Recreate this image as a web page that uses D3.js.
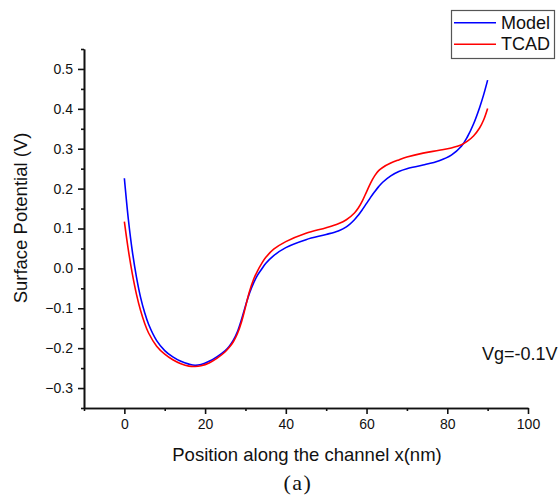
<!DOCTYPE html>
<html lang="en">
<head>
    <meta charset="UTF-8">
    <title>Surface potential</title>
    <script src="https://d3js.org/d3.v7.min.js"></script>
    <style>
        body { margin: 0; background: #fff; }
        svg { display: block; font-family: "Liberation Sans", Arial, sans-serif; }
    </style>
</head>
<body>
    <svg width="560" height="498"></svg>

    <script>
        // data
        const positions = [0, 1, 2, 3, 4, 5, 6, 8, 10, 12, 14, 16, 17.5, 19, 21, 23, 25, 26, 27, 28, 29, 30, 31, 32, 33, 34, 35, 37, 40, 45, 50, 53, 55, 57, 58, 59, 60, 61, 62, 63, 64, 66, 68, 70, 74, 78, 81, 83.5, 85, 86.5, 88, 89, 90];
        const modelValues = [0.226, 0.122, 0.041, -0.022, -0.072, -0.110, -0.140, -0.181, -0.206, -0.222, -0.233, -0.240, -0.243, -0.241, -0.233, -0.221, -0.206, -0.195, -0.180, -0.159, -0.129, -0.094, -0.062, -0.037, -0.017, -0.002, 0.012, 0.032, 0.052, 0.072, 0.085, 0.094, 0.104, 0.122, 0.134, 0.148, 0.163, 0.178, 0.192, 0.205, 0.216, 0.232, 0.243, 0.250, 0.259, 0.270, 0.284, 0.306, 0.330, 0.362, 0.403, 0.435, 0.472];
        const tcadValues = [0.117, 0.045, -0.015, -0.065, -0.105, -0.137, -0.162, -0.195, -0.215, -0.229, -0.239, -0.245, -0.246, -0.244, -0.237, -0.225, -0.209, -0.198, -0.184, -0.164, -0.135, -0.097, -0.058, -0.028, -0.006, 0.012, 0.027, 0.048, 0.067, 0.088, 0.102, 0.112, 0.122, 0.139, 0.152, 0.170, 0.192, 0.214, 0.232, 0.245, 0.253, 0.264, 0.272, 0.279, 0.289, 0.296, 0.302, 0.310, 0.319, 0.332, 0.352, 0.372, 0.401];

        const xMajorTicks = [0, 20, 40, 60, 80, 100];
        const xMinorTicks = [-10, 10, 30, 50, 70, 90];
        const yMajorTicks = [-0.3, -0.2, -0.1, 0.0, 0.1, 0.2, 0.3, 0.4, 0.5];
        const yMinorTicks = [-0.35, -0.25, -0.15, -0.05, 0.05, 0.15, 0.25, 0.35, 0.45, 0.55];

        const seriesNames = ["Model", "TCAD"];
        const seriesColors = ["#0000ff", "#ff0000"];

        const svgElement = d3.select("svg");

        // scales
        const xScale = d3.scaleLinear().domain([-10, 100]).range([84, 528]);
        const yScale = d3.scaleLinear().domain([-0.35, 0.55]).range([408, 49]);

        // minor ticks (no labels)
        svgElement.append("g")
            .attr("transform", "translate(0,408)")
            .call(d3.axisBottom(xScale).tickValues(xMinorTicks).tickSize(3).tickSizeOuter(0).tickFormat(""));
        svgElement.append("g")
            .attr("transform", "translate(84,0)")
            .call(d3.axisLeft(yScale).tickValues(yMinorTicks).tickSize(3).tickSizeOuter(0).tickFormat(""));

        // major ticks with labels
        svgElement.append("g")
            .attr("transform", "translate(0,408)")
            .call(d3.axisBottom(xScale).tickValues(xMajorTicks).tickSize(6).tickSizeOuter(0).tickPadding(5).tickFormat(d3.format("d")));
        svgElement.append("g")
            .attr("transform", "translate(84,0)")
            .call(d3.axisLeft(yScale).tickValues(yMajorTicks).tickSize(6).tickSizeOuter(0).tickPadding(5).tickFormat(d3.format(".1f")));

        svgElement.selectAll(".domain, .tick line")
            .attr("stroke", "#111")
            .attr("stroke-width", 1.6);
        svgElement.selectAll(".tick text")
            .attr("font-family", "Liberation Sans, Arial, sans-serif")
            .attr("font-size", 14)
            .attr("fill", "#111");

        // curves
        const lineGen = d3.line()
            .x(d => xScale(d[0]))
            .y(d => yScale(d[1]))
            .curve(d3.curveCatmullRom.alpha(0.5));

        [modelValues, tcadValues].forEach((vals, i) => {
            svgElement.append("path")
                .datum(positions.map((p, j) => [p, vals[j]]))
                .attr("fill", "none")
                .attr("stroke", seriesColors[i])
                .attr("stroke-width", 1.6)
                .attr("d", lineGen);
        });

        // axis titles
        svgElement.append("text")
            .attr("x", 307)
            .attr("y", 461)
            .attr("text-anchor", "middle")
            .attr("font-size", 18.5)
            .attr("fill", "#111")
            .text("Position along the channel x(nm)");
        svgElement.append("text")
            .attr("transform", "translate(27,218) rotate(-90)")
            .attr("text-anchor", "middle")
            .attr("font-size", 18.5)
            .attr("fill", "#111")
            .text("Surface Potential (V)");

        // caption
        svgElement.append("text")
            .attr("x", 298)
            .attr("y", 490)
            .attr("text-anchor", "middle")
            .attr("font-family", "Liberation Serif, Times New Roman, serif")
            .attr("font-size", 22)
            .attr("letter-spacing", 1.5)
            .attr("fill", "#111")
            .text("(a)");

        // annotation
        svgElement.append("text")
            .attr("x", 482)
            .attr("y", 360)
            .attr("font-size", 18)
            .attr("fill", "#111")
            .text("Vg=-0.1V");

        // legend
        const legend = svgElement.append("g");
        legend.append("rect")
            .attr("x", 451.5)
            .attr("y", 10.5)
            .attr("width", 103)
            .attr("height", 48)
            .attr("fill", "#fff")
            .attr("stroke", "#555")
            .attr("stroke-width", 1.2);
        seriesNames.forEach((name, i) => {
            const yPos = 22.7 + i * 21.6;
            legend.append("line")
                .attr("x1", 454)
                .attr("x2", 496)
                .attr("y1", yPos)
                .attr("y2", yPos)
                .attr("stroke", seriesColors[i])
                .attr("stroke-width", 1.6);
            legend.append("text")
                .attr("x", 501)
                .attr("y", yPos + 6)
                .attr("font-size", 18)
                .attr("fill", "#111")
                .text(name);
        });
    </script>
</body>
</html>
